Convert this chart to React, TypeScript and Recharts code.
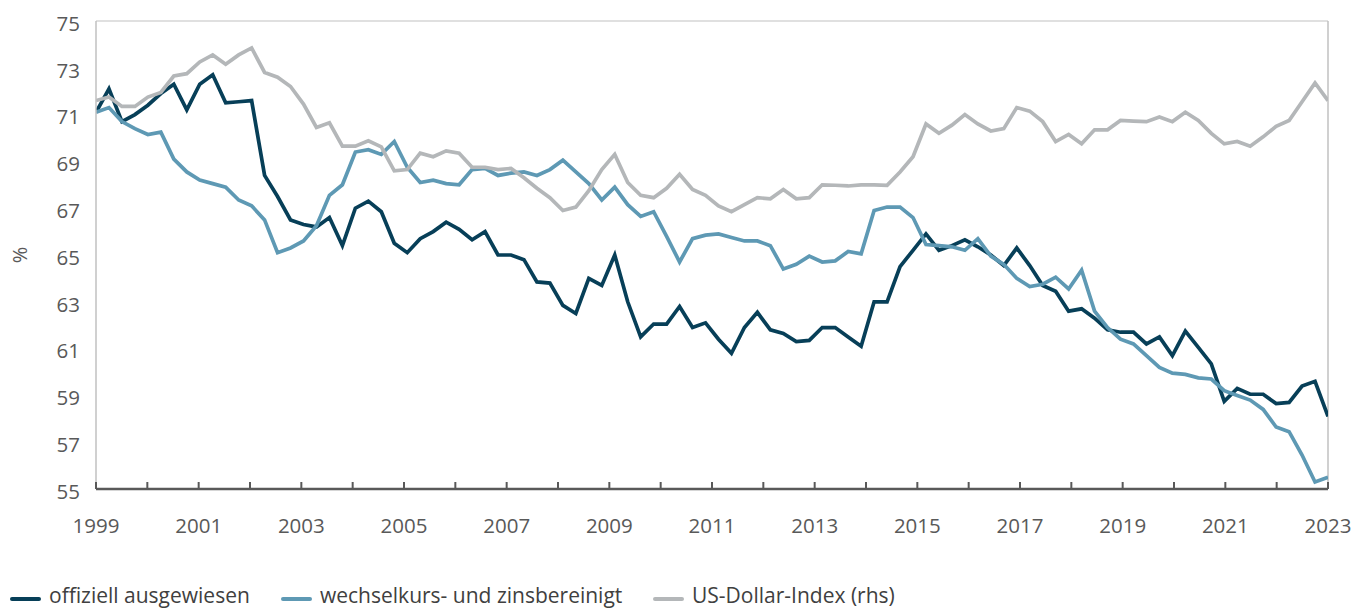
import React from 'react';
import { LineChart, Line, XAxis, YAxis, CartesianGrid, Legend, ReferenceLine } from 'recharts';

// Quarterly observations, 1999 Q1 – 2022 Q4
const quarters: string[] = [];
for (let y = 1999; y <= 2022; y++) for (let q = 1; q <= 4; q++) quarters.push(`${y}Q${q}`);

const official = [
  71.1, 72.1, 70.7, 71.0, 71.4, 71.9, 72.3, 71.2, 72.3, 72.7, 71.5, 71.55, 71.6, 68.4, 67.5, 66.5,
  66.3, 66.2, 66.6, 65.4, 67.0, 67.3, 66.85, 65.5, 65.1, 65.7, 66.0, 66.4, 66.1, 65.65, 66.0, 65.0,
  65.0, 64.8, 63.85, 63.8, 62.85, 62.5, 64.0, 63.7, 65.0, 63.0, 61.5, 62.05, 62.05, 62.8, 61.9, 62.1,
  61.4, 60.8, 61.9, 62.55, 61.8, 61.65, 61.3, 61.35, 61.9, 61.9, 61.5, 61.1, 63.0, 63.0, 64.5, 65.2,
  65.9, 65.2, 65.4, 65.65, 65.35, 65.0, 64.55, 65.3, 64.55, 63.7, 63.45, 62.6, 62.7, 62.3, 61.8, 61.7,
  61.7, 61.2, 61.5, 60.7, 61.75, 61.05, 60.35, 58.75, 59.3, 59.05, 59.05, 58.65, 58.7, 59.4, 59.6, 58.1,
];

const adjusted = [
  71.1, 71.3, 70.7, 70.4, 70.15, 70.25, 69.1, 68.55, 68.2, 68.05, 67.9, 67.35, 67.1, 66.5, 65.1, 65.3,
  65.6, 66.25, 67.55, 68.0, 69.4, 69.5, 69.3, 69.85, 68.75, 68.1, 68.2, 68.05, 68.0, 68.65, 68.7, 68.4,
  68.5, 68.55, 68.4, 68.65, 69.05, 68.55, 68.05, 67.35, 67.9, 67.15, 66.65, 66.85, 65.8, 64.7, 65.7, 65.85,
  65.9, 65.75, 65.6, 65.6, 65.4, 64.4, 64.6, 64.95, 64.7, 64.75, 65.15, 65.05, 66.9, 67.05, 67.05, 66.6,
  65.45, 65.4, 65.35, 65.2, 65.7, 64.95, 64.6, 64.0, 63.65, 63.75, 64.05, 63.55, 64.35, 62.6, 61.9, 61.4,
  61.2, 60.7, 60.2, 59.95, 59.9, 59.75, 59.7, 59.2, 59.0, 58.8, 58.4, 57.65, 57.45, 56.45, 55.3, 55.5,
];

const usdIndex = [
  71.6, 71.75, 71.35, 71.35, 71.75, 71.95, 72.65, 72.75, 73.25, 73.55, 73.15, 73.55, 73.85, 72.8, 72.6, 72.2,
  71.45, 70.45, 70.65, 69.65, 69.65, 69.88, 69.62, 68.6, 68.65, 69.35, 69.2, 69.45, 69.35, 68.75, 68.75, 68.65,
  68.7, 68.3, 67.85, 67.45, 66.9, 67.05, 67.75, 68.65, 69.3, 68.1, 67.55, 67.45, 67.85, 68.45, 67.8, 67.55,
  67.1, 66.85, 67.15, 67.45, 67.4, 67.8, 67.4, 67.45, 68.0, 67.98, 67.95, 68.0, 68.0, 67.98, 68.55, 69.2,
  70.6, 70.2, 70.55, 71.0, 70.6, 70.3, 70.4, 71.3, 71.15, 70.7, 69.85, 70.15, 69.75, 70.35, 70.35, 70.75,
  70.72, 70.7, 70.9, 70.7, 71.1, 70.75, 70.2, 69.75, 69.85, 69.65, 70.05, 70.5, 70.75, 71.55, 72.35, 71.6,
];

const yearTicks = [
  1999, 2000, 2001, 2002, 2003, 2004, 2005, 2006, 2007, 2008, 2009, 2010, 2011, 2012,
  2013, 2014, 2015, 2016, 2017, 2018, 2019, 2020, 2021, 2022, 2023,
];
const yTicks = [55, 57, 59, 61, 63, 65, 67, 69, 71, 73, 75];

const seriesNames = ['offiziell ausgewiesen', 'wechselkurs- und zinsbereinigt', 'US-Dollar-Index (rhs)'];

const DARK = '#073f58';
const BLUE = '#5e99b4';
const GRAY = '#b4b7b9';
const FONT = '"Open Sans", sans-serif';

const START = 1999;
const END = 2023;
const data = quarters.map((q, i) => ({
  q,
  t: START + (i * (END - START)) / (quarters.length - 1),
  official: official[i],
  adjusted: adjusted[i],
  usd: usdIndex[i],
}));

const XTick = (props: any) => {
  const { x, y, payload } = props;
  const year = payload.value as number;
  return (
    <g>
      <line x1={x} x2={x} y1={y} y2={y - 7} stroke="#595959" strokeWidth={2} />
      {(year - START) % 2 === 0 && (
        <text x={x} y={y + 37} textAnchor="middle" dy="0.355em" fill="#595959" fontSize={20.5} fontFamily={FONT}>
          {year}
        </text>
      )}
    </g>
  );
};

const YTick = (props: any) => {
  const { x, y, payload } = props;
  return (
    <text x={x} y={y + 2.5} textAnchor="end" dy="0.355em" fill="#595959" fontSize={20.5} fontFamily={FONT}>
      {payload.value}
    </text>
  );
};

const legendColors = [DARK, BLUE, GRAY];
const legendX = [12, 283, 655];

const LegendContent = () => (
  <svg width={1364} height={40} style={{ display: 'block' }}>
    {seriesNames.map((name, i) => (
      <g key={name}>
        <line x1={legendX[i]} x2={legendX[i] + 27} y1={30} y2={30} stroke={legendColors[i]} strokeWidth={4} strokeLinecap="round" />
        <text x={legendX[i] + 37} y={34} fill="#404040" fontSize={21} fontFamily={FONT}>
          {name}
        </text>
      </g>
    ))}
  </svg>
);

export default function App() {
  return (
    <div style={{ position: 'absolute', left: 0, top: 0, width: 1364, height: 609, overflow: 'hidden', background: '#fff' }}>
      <LineChart width={1364} height={609} data={data} margin={{ top: 21, right: 36, bottom: 0, left: 0 }}>
        <CartesianGrid vertical={false} stroke="#d6d6d6" strokeWidth={1.5} />
        <XAxis
          dataKey="t"
          type="number"
          domain={[START, END]}
          ticks={yearTicks}
          interval={0}
          allowDataOverflow
          height={80}
          tickSize={0}
          tickMargin={0}
          tickLine={false}
          axisLine={{ stroke: '#595959', strokeWidth: 2.5 }}
          tick={<XTick />}
        />
        <YAxis
          yAxisId="left"
          domain={[55, 75]}
          ticks={yTicks}
          interval={0}
          width={96}
          tickSize={0}
          tickMargin={16}
          tickLine={false}
          axisLine={{ stroke: '#c0c0c0', strokeWidth: 1.5 }}
          tick={<YTick />}
          label={{
            content: (p: any) => {
              const vb = p.viewBox || { x: 0, y: 21, width: 96, height: 468 };
              const cx = 20;
              const cy = vb.y + vb.height / 2;
              return (
                <text x={cx} y={cy} transform={`rotate(-90 ${cx} ${cy})`} textAnchor="middle" dy="0.355em" fill="#595959" fontSize={20} fontFamily={FONT}>
                  %
                </text>
              );
            },
          }}
        />
        <YAxis yAxisId="right" orientation="right" domain={[55, 75]} hide />
        <ReferenceLine yAxisId="left" x={END} stroke="#c0c0c0" strokeWidth={1.5} />
        <Line yAxisId="left" dataKey="official" name={seriesNames[0]} stroke={DARK} strokeWidth={3.7} dot={false} isAnimationActive={false} />
        <Line yAxisId="left" dataKey="adjusted" name={seriesNames[1]} stroke={BLUE} strokeWidth={3.7} dot={false} isAnimationActive={false} />
        <Line yAxisId="right" dataKey="usd" name={seriesNames[2]} stroke={GRAY} strokeWidth={3.7} dot={false} isAnimationActive={false} />
        <Legend verticalAlign="bottom" content={<LegendContent />} wrapperStyle={{ left: 0, bottom: 0, width: 1364, height: 40 }} />
      </LineChart>
    </div>
  );
}
